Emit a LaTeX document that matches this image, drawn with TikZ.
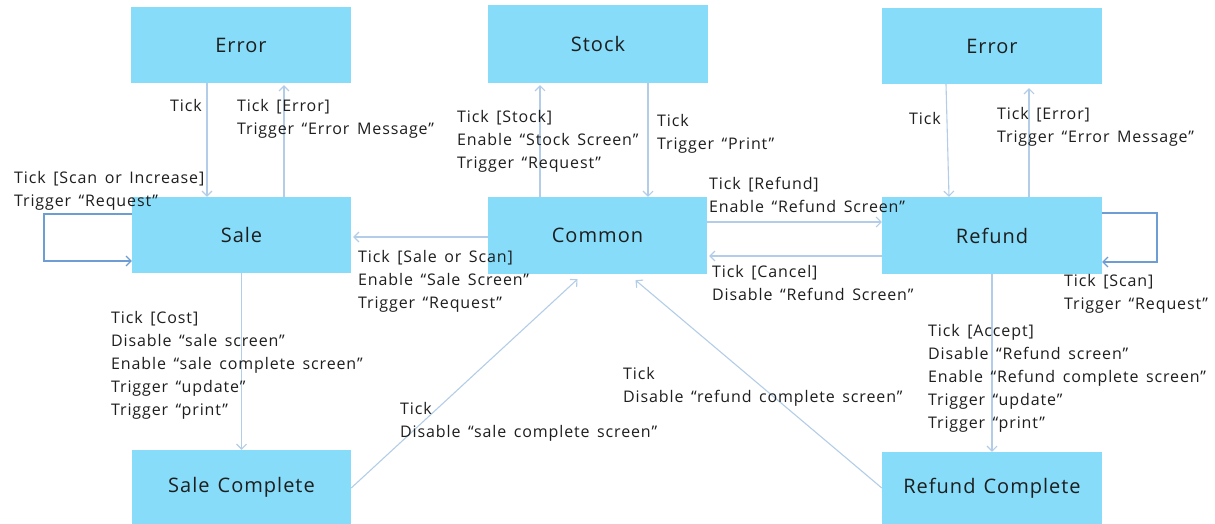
\documentclass[tikz,border=0pt]{standalone}
\usepackage{fontspec}
\setmainfont{Open Sans}
\newfontfamily\lblfont{Open Sans}[LetterSpace=5.5, WordSpace=1.5]
\newfontfamily\statefont{Open Sans}[LetterSpace=5.0, WordSpace=1.3]
\usetikzlibrary{arrows.meta,calc}
\definecolor{boxfill}{HTML}{86DCF9}
\definecolor{edge}{HTML}{B3CDE8}
\definecolor{loopedge}{HTML}{6E9DD4}
\definecolor{ink}{HTML}{1E1E1E}
\tikzset{
  state/.style={fill=boxfill, draw=none, inner sep=0pt, text=ink,
    font=\statefont\fontsize{20}{24}\selectfont},
  lbl/.style={anchor=north west, inner sep=0pt, align=left, text=ink,
    font=\lblfont\fontsize{16}{23}\selectfont},
  arr/.style={draw=edge, line width=1.1pt, -{Straight Barb[length=5pt,width=10pt]}},
  looparr/.style={draw=loopedge, line width=1.1pt, -{Straight Barb[length=5pt,width=10pt]}}
}
\begin{document}
\begin{tikzpicture}[x=1pt,y=-1pt]
\useasboundingbox (0,0) rectangle (1215,524);
\fill[white] (0,0) rectangle (1215,524);

% states
\node[state, minimum width=220pt, minimum height=76pt] (errL)  at (241,45)    {Error};
\node[state, minimum width=220pt, minimum height=78pt] (stock) at (598,44)    {Stock};
\node[state, minimum width=220pt, minimum height=76pt] (errR)  at (992,46)    {Error};
\node[state, minimum width=219pt, minimum height=76pt] (sale)  at (241.5,235) {Sale};
\node[state, minimum width=219pt, minimum height=77pt] (common) at (597.5,235.5) {Common};
\node[state, minimum width=220pt, minimum height=77pt] (refund) at (992,235.5) {Refund};
\node[state, minimum width=219pt, minimum height=74pt] (saleC) at (241.5,487) {Sale Complete};
\node[state, minimum width=220pt, minimum height=72pt] (refC)  at (992,488)   {Refund Complete};

% transitions to and from the error states
\draw[arr] (207,0 |- errL.south) -- (207,0 |- sale.north);
\draw[arr] (284,0 |- sale.north) -- ([yshift=-2pt]284,0 |- errL.south);
\draw[arr] (946,0 |- errR.south) -- (949,0 |- refund.north);
\draw[arr] (1029,0 |- refund.north) -- ([yshift=-4pt]1029,0 |- errR.south);

% stock
\draw[arr] (540,0 |- common.north) -- ([yshift=-2pt]540,0 |- stock.south);
\draw[arr] (648,0 |- stock.south) -- (648,0 |- common.north);

% common <-> sale / refund
\draw[arr] (common.west |- 0,237) -- ([xshift=2pt]sale.east |- 0,237);
\draw[arr] (common.east |- 0,222) -- (refund.west |- 0,222);
\draw[arr] (refund.west |- 0,256) -- ([xshift=2pt]common.east |- 0,256);

% self loops
\draw[looparr] (sale.west |- 0,214) -- (44,214) -- (44,261) -- (sale.west |- 0,261);
\draw[looparr] (refund.east |- 0,213) -- (1157,213) -- (1157,262) -- (refund.east |- 0,262);

% completion
\draw[arr] (sale.south) -- (saleC.north);
\draw[arr] (refund.south) -- (refC.north);
\draw[arr] (saleC.east |- 0,488) -- ([xshift=-20pt,yshift=-5pt]common.south);
\draw[arr] (refC.west |- 0,488) -- ([xshift=38pt,yshift=-6pt]common.south);

% transition labels
\node[lbl] (l1)  at (170,99)  {Tick};
\node[lbl] (l2)  at (237,99)  {Tick [Error]\\Trigger “Error Message”};
\node[lbl] (l3)  at (14,171)  {Tick [Scan or Increase]\\Trigger “Request”};
\node[lbl] (l4)  at (457,110) {Tick [Stock]\\Enable “Stock Screen”\\Trigger “Request”};
\node[lbl] (l5)  at (657,114) {Tick\\Trigger “Print”};
\node[lbl] (l6)  at (909,112) {Tick};
\node[lbl] (l7)  at (997,107) {Tick [Error]\\Trigger “Error Message”};
\node[lbl] (l8)  at (709,177) {Tick [Refund]\\Enable “Refund Screen”};
\node[lbl] (l9)  at (358,250) {Tick [Sale or Scan]\\Enable “Sale Screen”\\Trigger “Request”};
\node[lbl] (l10) at (712,265) {Tick [Cancel]\\Disable “Refund Screen”};
\node[lbl] (l11) at (1064,274) {Tick [Scan]\\Trigger “Request”};
\node[lbl] (l12) at (111,311) {Tick [Cost]\\Disable “sale screen”\\Enable “sale complete screen”\\Trigger “update”\\Trigger “print”};
\node[lbl] (l13) at (928,324) {Tick [Accept]\\Disable “Refund screen”\\Enable “Refund complete screen”\\Trigger “update”\\Trigger “print”};
\node[lbl] (l14) at (623,367) {Tick\\Disable “refund complete screen”};
\node[lbl] (l15) at (400,402) {Tick\\Disable “sale complete screen”};
\end{tikzpicture}
\end{document}
